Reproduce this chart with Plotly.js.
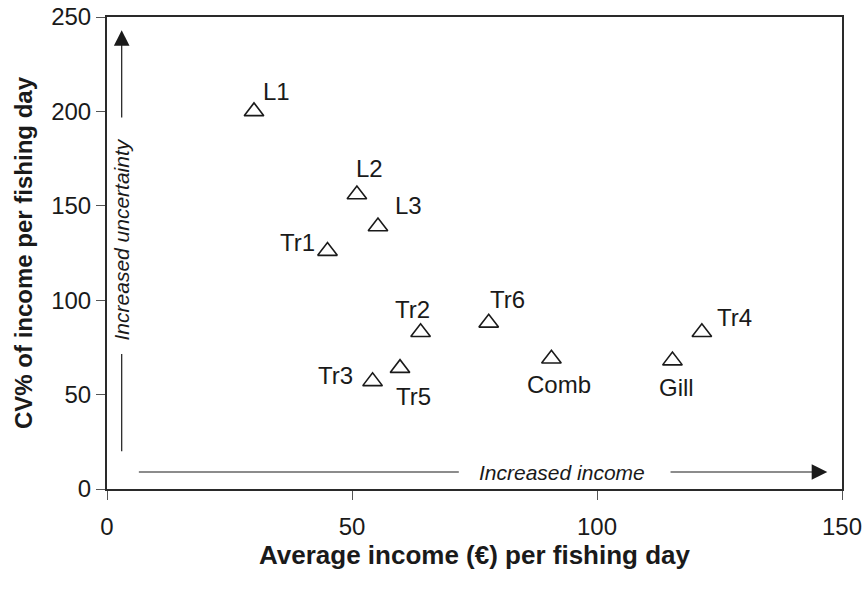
<!DOCTYPE html>
<html>
<head>
<meta charset="utf-8">
<script src="https://cdn.plot.ly/plotly-3.0.1.min.js"></script>
<style>html,body{margin:0;padding:0;background:#fff;}#chart{width:867px;height:590px;}</style>
</head>
<body>
<div id="chart"></div>
<script>
// Data
var labels = ["L1", "L2", "L3", "Tr1", "Tr2", "Tr3", "Tr5", "Tr6", "Comb", "Gill", "Tr4"];
var avgIncome = [30, 51, 55.3, 45, 64, 54.2, 59.8, 77.9, 90.7, 115.4, 121.4];
var cvIncome = [200, 156, 139, 126, 83, 57, 64, 88, 69, 68, 83];
var xTicks = [0, 50, 100, 150];
var yTicks = [0, 50, 100, 150, 200, 250];

// label placement (pixel offsets from each marker)
var labelOffset = {
  "L1": [22, 20], "L2": [13, 26], "L3": [31, 21], "Tr1": [-30, 9],
  "Tr2": [-8, 23], "Tr3": [-37, 6], "Tr5": [13, -28], "Tr6": [19, 23],
  "Comb": [8, -26], "Gill": [4, -27], "Tr4": [33, 15]
};

var ink = "#1a1a1a";
var font = "Arial, 'Liberation Sans', sans-serif";

var trace = {
  type: "scatter",
  mode: "markers",
  x: avgIncome,
  y: cvIncome,
  text: labels,
  hoverinfo: "text+x+y",
  marker: {symbol: "triangle-up-open", size: 17, color: ink, line: {width: 1.6, color: ink}},
  showlegend: false
};

var annotations = labels.map(function (lab, i) {
  var off = labelOffset[lab];
  return {x: avgIncome[i], y: cvIncome[i], xref: "x", yref: "y", text: lab, showarrow: false,
    xshift: off[0], yshift: off[1], font: {family: font, size: 24, color: ink}};
});

// Direction hints
annotations.push({x: 3, y: 243, ax: 3, ay: 196, xref: "x", yref: "y", axref: "x", ayref: "y",
  text: "", showarrow: true, arrowhead: 2, arrowsize: 2.6, arrowwidth: 1.2, arrowcolor: ink});
annotations.push({x: 147, y: 9, ax: 114.7, ay: 9, xref: "x", yref: "y", axref: "x", ayref: "y",
  text: "", showarrow: true, arrowhead: 2, arrowsize: 2.6, arrowwidth: 1.2, arrowcolor: ink});
annotations.push({x: 3, y: 132, xref: "x", yref: "y", text: "<i>Increased uncertainty</i>", textangle: -90,
  showarrow: false, font: {family: font, size: 21, color: ink}});
annotations.push({x: 92.9, y: 9, xref: "x", yref: "y", text: "<i>Increased income</i>",
  showarrow: false, font: {family: font, size: 21, color: ink}});

var shapes = [
  {type: "line", xref: "x", yref: "y", x0: 3, x1: 3, y0: 20, y1: 71.5, line: {color: ink, width: 1.2}},
  {type: "line", xref: "x", yref: "y", x0: 6.5, x1: 71.8, y0: 9, y1: 9, line: {color: ink, width: 1.2}}
];

var layout = {
  width: 867, height: 590,
  margin: {l: 107, r: 25, t: 17, b: 101},
  paper_bgcolor: "#fff", plot_bgcolor: "#fff",
  font: {family: font, color: ink},
  xaxis: {
    range: [0, 150], tickvals: xTicks, ticktext: xTicks.map(String),
    showgrid: false, zeroline: false, showline: true, mirror: true,
    linecolor: "#2a2a2a", linewidth: 2, ticks: "outside", ticklen: 9, tickcolor: "#555", tickwidth: 1,
    tickfont: {size: 24, color: ink}, ticklabelstandoff: 6, automargin: false,
    title: {text: "<b>Average income (€) per fishing day</b>", font: {size: 26, color: ink}, standoff: 0}
  },
  yaxis: {
    range: [0, 250], tickvals: yTicks, ticktext: yTicks.map(String),
    showgrid: false, zeroline: false, showline: true, mirror: true,
    linecolor: "#2a2a2a", linewidth: 2, ticks: "outside", ticklen: 9, tickcolor: "#555", tickwidth: 1,
    tickfont: {size: 24, color: ink}, automargin: false,
    title: {text: "<b>CV% of income per fishing day</b>", font: {size: 24, color: ink}, standoff: 12}
  },
  annotations: annotations,
  shapes: shapes
};

Plotly.newPlot("chart", [trace], layout, {displayModeBar: false, staticPlot: true});
</script>
</body>
</html>
